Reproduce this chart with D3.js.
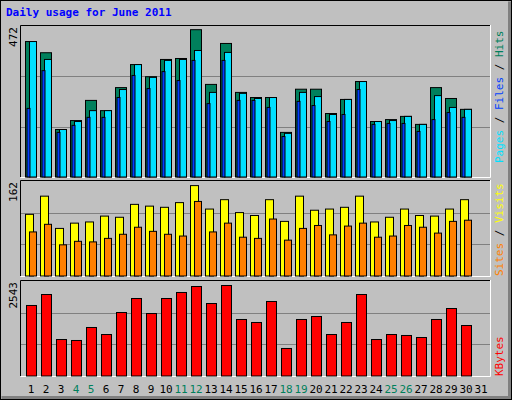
<!DOCTYPE html><html><head><script src="https://cdn.jsdelivr.net/npm/d3@7"></script>
<style>body{margin:0;background:#fff}</style></head><body><svg id="c" width="512" height="400"></svg><script>
const days=d3.range(1,32);
const weekend=[4,5,11,12,18,19,25,26];
const hits=[425,390,150,178,241,209,281,353,315,369,372,462,291,419,266,250,250,141,276,276,200,244,300,175,181,191,166,281,247,213];
const files=[425,369,150,175,209,209,275,353,313,366,369,397,266,391,263,247,250,138,266,253,197,244,300,175,178,191,166,256,219,213];
const pages=[216,334,141,163,188,188,250,319,278,331,303,366,231,366,241,241,219,128,238,225,175,197,275,166,169,169,144,181,203,188];
const visits=[106,137,82,91,93,103,101,123,120,118,126,155,115,131,109,104,131,94,137,113,115,118,137,93,101,115,104,103,115,131];
const sites=[76,89,54,60,59,65,72,84,77,72,69,128,76,91,67,65,98,62,82,87,71,86,91,67,69,87,84,74,94,96];
const kbytes=[1901,2195,990,964,1312,1124,1713,2088,1686,2088,2249,2409,1954,2436,1526,1446,2008,750,1526,1606,1124,1446,2195,990,1124,1098,1044,1526,1820,1365];
const maxes=[472,162,2543];
const svg=d3.select("#c");
const F="DejaVu Sans Mono, monospace";
svg.append("rect").attr("x",0).attr("y",0).attr("width",512).attr("height",400).attr("fill","#c0c0c0");
svg.append("path").attr("d","M0.5,399.5V0.5H511.5").attr("stroke","#fff").attr("fill","none");
svg.append("path").attr("d","M1.5,397.5H509.5V1.5").attr("stroke","#808080").attr("stroke-width",3).attr("fill","none");
svg.append("rect").attr("x",0.5).attr("y",0.5).attr("width",511).attr("height",399).attr("fill","none").attr("stroke","#000");
svg.append("text").attr("x",6).attr("y",16).text("Daily usage for June 2011").attr("font-family",F).attr("font-weight","bold").attr("font-size",11).attr("fill","#0000ff");
const x=d3.scaleLinear().domain([1,31]).range([25,475]);
const panels=[{t:25,b:177,max:maxes[0]},{t:180,b:276,max:maxes[1]},{t:280,b:376,max:maxes[2]}];
panels.forEach(p=>{
  p.y=d3.scaleLinear().domain([0,p.max]).range([p.b,p.t+1]);
  svg.append("rect").attr("x",20).attr("y",p.t).attr("width",470).attr("height",p.b-p.t).attr("fill","#c0c0c0");
  [1/3,2/3].forEach(f=>svg.append("line").attr("x1",21).attr("x2",490).attr("y1",Math.round(p.y(p.max*f))+0.5).attr("y2",Math.round(p.y(p.max*f))+0.5).attr("stroke","#808080"));
  svg.append("path").attr("d",`M20.5,${p.b}V${p.t+0.5}H490`).attr("stroke","#000").attr("fill","none");
  svg.append("path").attr("d",`M20.5,${p.b+0.5}H490.5V${p.t}`).attr("stroke","#fff").attr("fill","none");
  svg.append("text").attr("transform",`translate(17,${p.t+2}) rotate(-90)`).attr("text-anchor","end").text(p.max).attr("font-family",F).attr("font-size",11).attr("fill","#000");
});
function bars(data,p,off,w,color){
  svg.append("g").selectAll("rect").data(data).join("rect")
   .attr("x",(d,i)=>x(i+1)+off+0.5).attr("width",w)
   .attr("y",d=>p.y(d)+0.5).attr("height",d=>p.b-p.y(d)-0.5)
   .attr("fill",color).attr("stroke","#000");
}
bars(hits,panels[0],0,11,"#00805c");
bars(files,panels[0],4,7,"#00e0ff");
bars(pages,panels[0],1.5,3,"#0040ff");
bars(visits,panels[1],0,8,"#ffff00");
bars(sites,panels[1],4,7,"#ff8000");
bars(kbytes,panels[2],1,10,"#ff0000");
svg.append("g").selectAll("text").data(days).join("text").attr("x",d=>x(d)+6).attr("y",393).attr("text-anchor","middle")
 .text(d=>d).attr("font-family",F).attr("font-size",11).attr("fill",d=>weekend.includes(d)?"#00805c":"#000");
function rlabel(yEnd,parts){
  const t=svg.append("text").attr("transform",`translate(503,${yEnd}) rotate(-90)`).attr("font-family",F).attr("font-size",11);
  parts.forEach(([s,c])=>t.append("tspan").text(s).attr("fill",c));
}
rlabel(163,[["Pages","#00e0ff"],[" / ","#000"],["Files","#0040ff"],[" / ","#000"],["Hits","#00805c"]]);
rlabel(276,[["Sites","#ff8000"],[" / ","#000"],["Visits","#ffff00"]]);
rlabel(376,[["KBytes","#ff0000"]]);
</script></body></html>
